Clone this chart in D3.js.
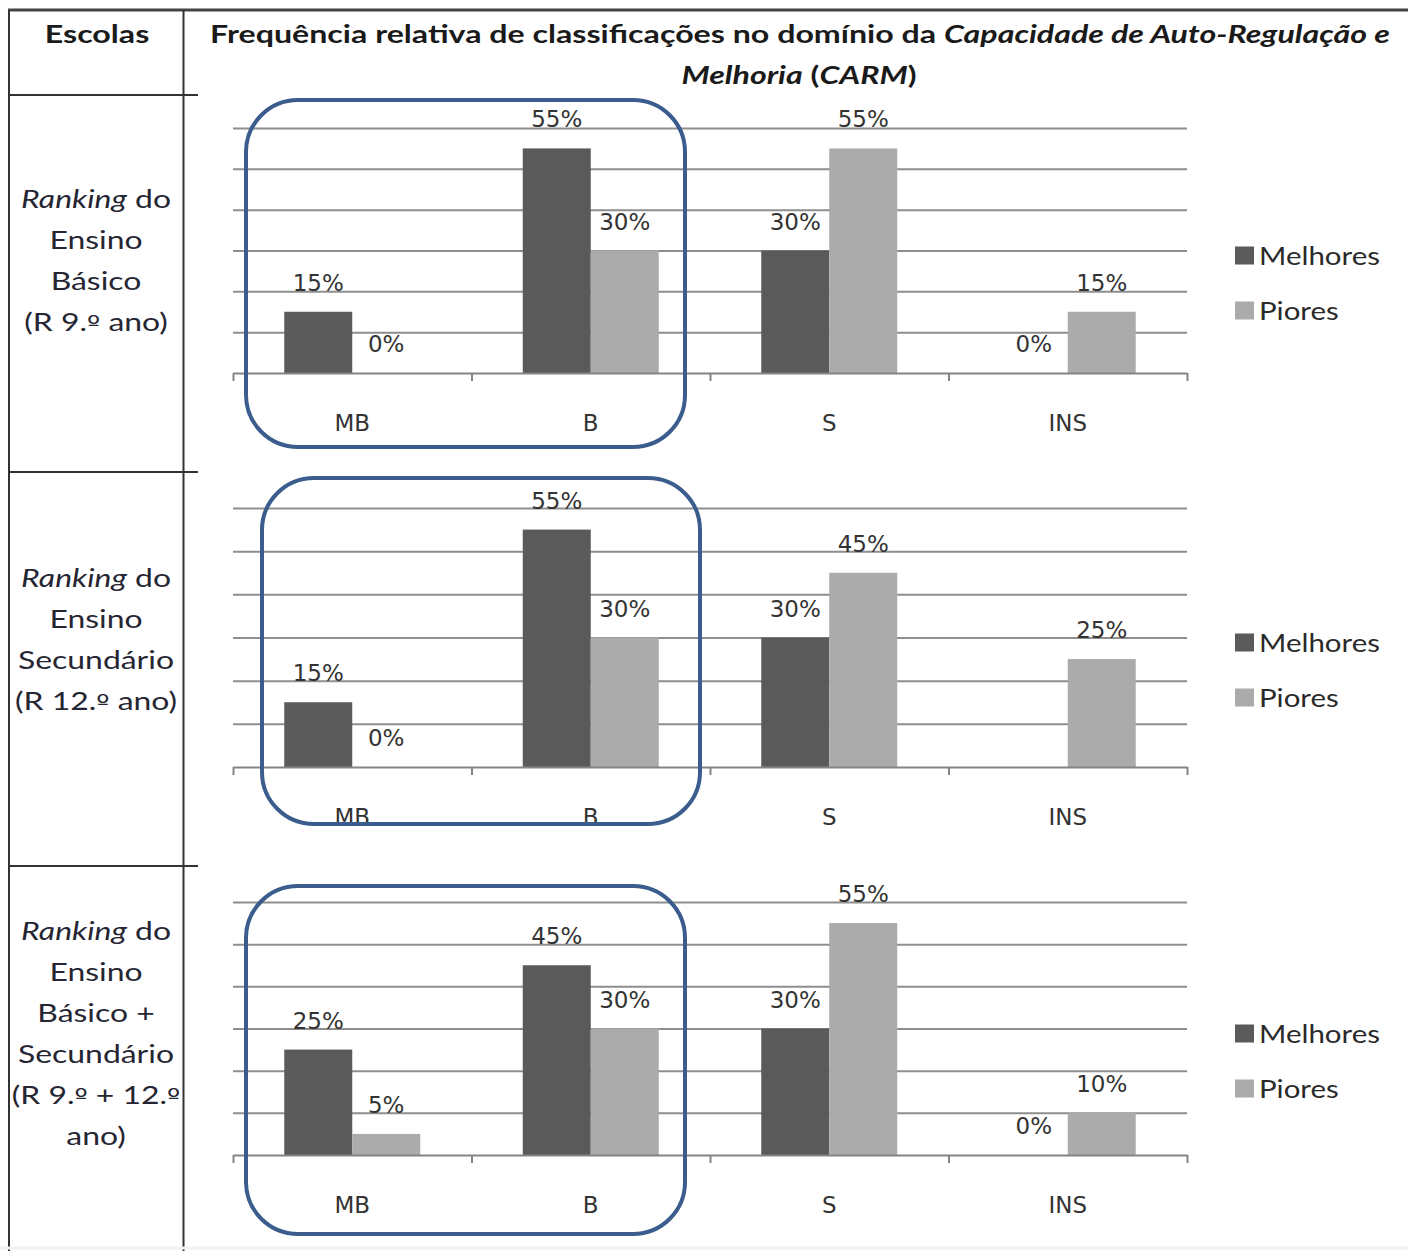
<!DOCTYPE html>
<html>
<head>
<meta charset="utf-8">
<script src="https://cdn.jsdelivr.net/npm/d3@7"></script>
<style>
  body { margin: 0; background: #fff; }
</style>
</head>
<body>
<div id="chart"></div>
<script>
// categories and series
const categories = ["MB", "B", "S", "INS"];
const seriesNames = ["Melhores", "Piores"];
const gridTicks = [0, 10, 20, 30, 40, 50, 60];

// values (%) per ranking
const basicoMelhores = [15, 55, 30, 0];
const basicoPiores = [0, 30, 55, 15];
const secundarioMelhores = [15, 55, 30, null]; // no label shown for INS
const secundarioPiores = [0, 30, 45, 25];
const totalMelhores = [25, 45, 30, 0];
const totalPiores = [5, 30, 55, 10];

// row labels of the "Escolas" column (first line is always "Ranking do")
const basicoLines = ["Ensino", "Básico", "(R 9.º ano)"];
const secundarioLines = ["Ensino", "Secundário", "(R 12.º ano)"];
const totalLines = ["Ensino", "Básico +", "Secundário", "(R 9.º + 12.º", "ano)"];

const W = 1408, H = 1251;
const svg = d3.select("#chart").append("svg")
    .attr("width", W)
    .attr("height", H);

const plotLeft = 233, plotRight = 1187;
const x = d3.scaleBand().domain(categories).range([plotLeft, plotRight]).padding(0);
const xEdges = d3.scaleLinear().domain([0, categories.length]).range([plotLeft, plotRight]);
const xSeries = d3.scaleBand().domain(seriesNames).range([0, x.bandwidth()])
    .paddingInner(0).paddingOuter(0.754);
const color = d3.scaleOrdinal().domain(seriesNames).range(["#5a5a5a", "#ababab"]);

// helper: horizontal stretch of a text so that it has a given width
function stretchFactor(str, font, target) {
    const t = svg.append("text").style("font", font).text(str);
    const w = t.node().getComputedTextLength();
    t.remove();
    return target / w;
}

// write a line, the ordinal sign drawn with an underlined glyph
function writeLine(sel, str) {
    str.split("º").forEach((part, i) => {
        if (i > 0) sel.append("tspan").attr("font-family", "DejaVu Sans").attr("font-size", 22).text("º");
        if (part) sel.append("tspan").text(part);
    });
}

const leftFont = "25px Lato";
const boldFont = "bold 25px Lato";
const sLeft = stretchFactor("Secundário", leftFont, 156);
const sLegend = stretchFactor("Melhores", leftFont, 121);

// ---- table lines
const tableColor = "#333";
svg.append("line").attr("x1", 8).attr("x2", W).attr("y1", 10).attr("y2", 10)
    .attr("stroke", "#444").attr("stroke-width", 3);
[9, 183.5].forEach(xx => {
    svg.append("line").attr("x1", xx).attr("x2", xx).attr("y1", 10).attr("y2", H)
        .attr("stroke", tableColor).attr("stroke-width", 2);
});
[95, 472, 866].forEach(yy => {
    svg.append("line").attr("x1", 8).attr("x2", 198).attr("y1", yy).attr("y2", yy)
        .attr("stroke", tableColor).attr("stroke-width", 2);
});
svg.append("line").attr("x1", 0).attr("x2", W).attr("y1", 1248).attr("y2", 1248)
    .attr("stroke", "#f2f2f2").attr("stroke-width", 3);

// ---- header
const title1 = svg.append("text")
    .attr("text-anchor", "middle")
    .style("font", boldFont).attr("fill", "#1a1a1a");
title1.append("tspan").text("Frequência relativa de classificações no domínio da ");
title1.append("tspan").attr("font-style", "italic").text("Capacidade de Auto-Regulação e");
const sTitle = 1180 / title1.node().getComputedTextLength();
title1.attr("transform", `translate(800,43) scale(${sTitle},1)`);

const title2 = svg.append("text")
    .attr("text-anchor", "middle")
    .attr("transform", `translate(799,84) scale(${sTitle},1)`)
    .style("font", boldFont).attr("fill", "#1a1a1a");
title2.append("tspan").attr("font-style", "italic").text("Melhoria");
title2.append("tspan").text(" (");
title2.append("tspan").attr("font-style", "italic").text("CARM");
title2.append("tspan").text(")");

svg.append("text")
    .attr("text-anchor", "middle")
    .attr("transform", `translate(97,43) scale(${sTitle},1)`)
    .style("font", boldFont).attr("fill", "#1a1a1a")
    .text("Escolas");

// ---- panels
const panels = [
    { mel: basicoMelhores, pio: basicoPiores, lines: basicoLines, top: 128, base: 373,
      textY: 208, box: { l: 13, r: -25, t: -28, b: 74 } },
    { mel: secundarioMelhores, pio: secundarioPiores, lines: secundarioLines, top: 508, base: 767,
      textY: 587, box: { l: 29, r: -10, t: -30, b: 57 } },
    { mel: totalMelhores, pio: totalPiores, lines: totalLines, top: 902, base: 1155,
      textY: 940, box: { l: 13, r: -25, t: -16, b: 79 } }
];

panels.forEach(p => {
    const y = d3.scaleLinear().domain([0, 60]).range([p.base, p.top]);
    const g = svg.append("g");

    // row label
    const lineH = 41;
    const first = g.append("text")
        .attr("text-anchor", "middle")
        .attr("transform", `translate(96,${p.textY}) scale(${sLeft},1)`)
        .style("font", leftFont).attr("fill", "#262633");
    first.append("tspan").attr("font-style", "italic").text("Ranking");
    first.append("tspan").text(" do");
    p.lines.forEach((l, i) => {
        const t = g.append("text")
            .attr("text-anchor", "middle")
            .attr("transform", `translate(96,${p.textY + (i + 1) * lineH}) scale(${sLeft},1)`)
            .style("font", leftFont).attr("fill", "#262633");
        writeLine(t, l);
    });

    // gridlines
    g.append("g")
        .attr("transform", `translate(${plotLeft},0)`)
        .call(d3.axisLeft(y).tickValues(gridTicks.slice(1)).tickSize(-(plotRight - plotLeft)).tickFormat(""))
        .call(a => a.select(".domain").remove())
        .call(a => a.selectAll("line").attr("stroke", "#8e8e8e").attr("stroke-width", 2));

    // bars
    const rows = categories.map((c, i) => ({
        cat: c,
        values: [{ key: "Melhores", v: p.mel[i] }, { key: "Piores", v: p.pio[i] }]
    }));
    const cat = g.selectAll(".cat")
        .data(rows)
        .join("g")
        .attr("class", "cat")
        .attr("transform", d => `translate(${x(d.cat)},0)`);

    cat.selectAll("rect")
        .data(d => d.values.filter(v => v.v != null && v.v > 0))
        .join("rect")
        .attr("x", d => xSeries(d.key))
        .attr("y", d => y(d.v))
        .attr("width", xSeries.bandwidth())
        .attr("height", d => y(0) - y(d.v))
        .attr("fill", d => color(d.key));

    cat.selectAll("text")
        .data(d => d.values.filter(v => v.v != null))
        .join("text")
        .attr("x", d => xSeries(d.key) + xSeries.bandwidth() / 2)
        .attr("y", d => y(d.v) - 21)
        .attr("text-anchor", "middle")
        .style("font", "23px 'DejaVu Sans'")
        .attr("fill", "#333")
        .text(d => d.v + "%");

    // baseline with ticks at category edges
    g.append("g")
        .attr("transform", `translate(0,${p.base})`)
        .call(d3.axisBottom(xEdges).tickValues(d3.range(categories.length + 1)).tickSize(8).tickSizeOuter(0).tickFormat(""))
        .call(a => a.select(".domain").attr("stroke", "#848484").attr("stroke-width", 2))
        .call(a => a.selectAll("line").attr("stroke", "#848484").attr("stroke-width", 2));

    // category labels
    g.append("g")
        .attr("transform", `translate(0,${p.base})`)
        .call(d3.axisBottom(x).tickSize(0).tickPadding(0))
        .call(a => a.select(".domain").remove())
        .call(a => a.selectAll("text")
            .attr("dy", null)
            .attr("y", 58)
            .style("font", "23px 'DejaVu Sans'")
            .attr("fill", "#333"));

    // legend
    const mid = (p.top + p.base) / 2;
    const leg = g.selectAll(".leg")
        .data(seriesNames)
        .join("g")
        .attr("class", "leg")
        .attr("transform", (d, i) => `translate(1235,${mid + 5 + i * 55})`);
    leg.append("rect")
        .attr("x", 0).attr("y", -9).attr("width", 19).attr("height", 18)
        .attr("fill", d => color(d));
    leg.append("text")
        .attr("transform", `translate(24,9) scale(${sLegend},1)`)
        .style("font", leftFont).attr("fill", "#2a2a2a")
        .text(d => d);

    // highlight box around MB and B
    const bx0 = x("MB") + p.box.l;
    const bx1 = x("B") + x.bandwidth() + p.box.r;
    const by0 = p.top + p.box.t;
    const by1 = p.base + p.box.b;
    g.append("rect")
        .attr("x", bx0).attr("y", by0)
        .attr("width", bx1 - bx0).attr("height", by1 - by0)
        .attr("rx", 52).attr("ry", 52)
        .attr("fill", "none")
        .attr("stroke", "#3b5d8d")
        .attr("stroke-width", 4);
});
</script>
</body>
</html>
